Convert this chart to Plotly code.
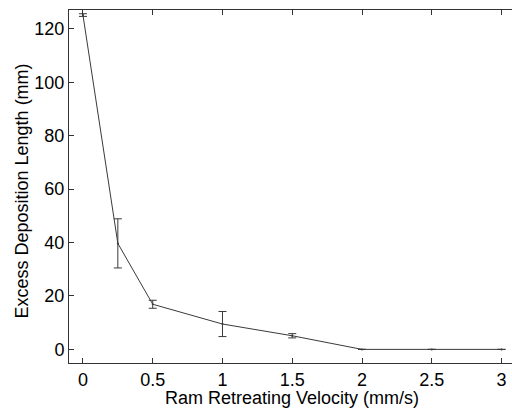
import plotly.graph_objects as go

velocity = [0, 0.25, 0.5, 1, 1.5, 2, 2.5, 3]
excess_length = [125.2, 39.7, 16.9, 9.5, 5.1, 0, 0, 0]
error = [0.5, 9.2, 1.5, 4.7, 0.8, 0, 0, 0]

x_ticks = [0, 0.5, 1, 1.5, 2, 2.5, 3]
x_tick_labels = ["0", "0.5", "1", "1.5", "2", "2.5", "3"]
y_ticks = [0, 20, 40, 60, 80, 100, 120]

x_title = "Ram Retreating Velocity (mm/s)"
y_title = "Excess Deposition Length (mm)"

font_family = "Arial, Liberation Sans, Helvetica, sans-serif"

fig = go.Figure()
fig.add_trace(go.Scatter(
    x=velocity, y=excess_length,
    mode="lines+markers",
    line=dict(color="#3a3a3a", width=1),
    marker=dict(size=2, color="#3a3a3a"),
    error_y=dict(type="data", array=error, visible=True,
                 color="#3a3a3a", thickness=1, width=4),
    showlegend=False,
    hoverinfo="skip",
))

fig.update_layout(
    width=512, height=409,
    margin=dict(l=69, r=0, t=10, b=46),
    paper_bgcolor="white", plot_bgcolor="white",
    font=dict(family=font_family, size=18, color="black"),
    xaxis=dict(
        range=[-0.1, 3.075],
        tickvals=x_ticks, ticktext=x_tick_labels,
        ticks="inside", ticklen=5, tickcolor="#333", tickwidth=1,
        showline=True, linecolor="#333", linewidth=1, mirror="ticks",
        showgrid=False, zeroline=False, automargin=False,
        tickfont=dict(size=18),
    ),
    yaxis=dict(
        range=[-5.1, 127.1],
        tickvals=y_ticks,
        ticks="inside", ticklen=5, tickcolor="#333", tickwidth=1,
        showline=True, linecolor="#333", linewidth=1, mirror=False,
        showgrid=False, zeroline=False, automargin=False,
        tickfont=dict(size=18),
    ),
    annotations=[
        dict(text=x_title, xref="paper", yref="paper",
             x=(292 - 69) / 443, y=(363 - 398) / 353,
             xanchor="center", yanchor="middle", showarrow=False,
             font=dict(size=18)),
        dict(text=y_title, xref="paper", yref="paper",
             x=(22 - 69) / 443, y=(363 - 191.5) / 353,
             xanchor="center", yanchor="middle", showarrow=False,
             textangle=-90, font=dict(size=18)),
    ],
)

fig.write_html(
    "out.html",
    config={"displayModeBar": False, "staticPlot": True},
    post_script="document.body.style.margin='0px';document.body.style.overflow='hidden';",
)
